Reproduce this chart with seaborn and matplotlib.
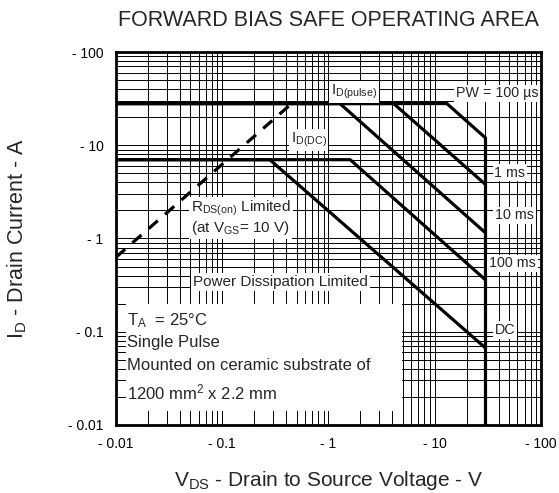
import matplotlib
matplotlib.use("Agg")
import matplotlib.pyplot as plt
from matplotlib.patches import Rectangle
from matplotlib.ticker import FixedLocator, LogLocator, NullFormatter
import pandas as pd
import seaborn as sns

# ── Data ──────────────────────────────────────────────────────────────────
tick_values = [0.01, 0.1, 1, 10, 100]
tick_labels = ["- 0.01", "- 0.1", "- 1", "- 10", "- 100"]

rds_vds = [0.01, 0.45]
rds_id = [0.63, 28]

pw100us_vds = [0.01, 13.0, 30]
pw100us_id = [28, 28, 12]

pw1ms_vds = [0.01, 4.1, 30]
pw1ms_id = [28, 28, 3.8]

pw10ms_vds = [0.01, 1.28, 30]
pw10ms_id = [28, 28, 1.15]

pw100ms_vds = [0.01, 1.6, 30]
pw100ms_id = [7, 7, 0.36]

dc_vds = [0.01, 0.28, 30]
dc_id = [7, 7, 0.067]

bvdss_vds = [30, 30]
bvdss_id = [0.01, 12]

# ── Style ─────────────────────────────────────────────────────────────────
sns.set_style("white")
plt.rcParams["font.family"] = ["Liberation Sans", "DejaVu Sans"]
plt.rcParams["mathtext.fontset"] = "custom"
plt.rcParams["mathtext.rm"] = "Liberation Sans"
plt.rcParams["mathtext.it"] = "Liberation Sans:italic"
plt.rcParams["mathtext.bf"] = "Liberation Sans:bold"

curves = {
    "100us": (pw100us_vds, pw100us_id),
    "1ms": (pw1ms_vds, pw1ms_id),
    "10ms": (pw10ms_vds, pw10ms_id),
    "100ms": (pw100ms_vds, pw100ms_id),
    "dc": (dc_vds, dc_id),
    "bvdss": (bvdss_vds, bvdss_id),
}
rows = []
for name, (vs, ids) in curves.items():
    for v, i in zip(vs, ids):
        rows.append({"curve": name, "vds": v, "id": i})
df = pd.DataFrame(rows)
df_rds = pd.DataFrame({"vds": rds_vds, "id": rds_id})

fig = plt.figure(figsize=(5.59, 4.93), dpi=100)
ax = fig.add_axes([0.2075, 0.138, 0.7603, 0.7565])

sns.lineplot(data=df, x="vds", y="id", units="curve", estimator=None,
             sort=False, color="black", linewidth=2.3, ax=ax, zorder=3)
sns.lineplot(data=df_rds, x="vds", y="id", estimator=None, sort=False,
             color="black", linewidth=2.3, ax=ax, zorder=3)
ax.lines[-1].set_dashes((3.8, 3.0))

ax.set_xscale("log")
ax.set_yscale("log")
ax.set_xlim(0.01, 100)
ax.set_ylim(0.01, 100)

for axis in (ax.xaxis, ax.yaxis):
    axis.set_major_locator(FixedLocator(tick_values))
    axis.set_minor_locator(LogLocator(base=10, subs=range(2, 10)))
    axis.set_minor_formatter(NullFormatter())
ax.set_xticklabels(tick_labels)
ax.set_yticklabels(tick_labels)
ax.tick_params(which="both", length=0, labelsize=10, colors="black")
ax.tick_params(axis="x", pad=9)
ax.tick_params(axis="y", pad=9)

ax.set_axisbelow(True)
ax.grid(which="both", color="black", linewidth=0.7)
for sp in ax.spines.values():
    sp.set_color("black")
    sp.set_linewidth(2.0)

# white panel behind the test conditions
ax.add_patch(Rectangle((0.0124, 0.0142), 4.95 - 0.0124, 0.196 - 0.0142,
                       facecolor="white", edgecolor="none", zorder=1))

box = dict(facecolor="white", edgecolor="none", pad=1.2)
txt = dict(fontsize=11, va="center", ha="left", zorder=4, bbox=box)
side = dict(txt, fontsize=10.3)
ax.text(1.05, 37, r"I$_\mathrm{D(pulse)}$", **txt)
ax.text(15.8, 36, "PW = 100 µs", **side)
ax.text(0.44, 11.3, r"I$_\mathrm{D(DC)}$", **txt)
ax.text(36.5, 5.1, "1 ms", **side)
ax.text(37, 1.77, "10 ms", **side)
ax.text(32.5, 0.54, "100 ms", **side)
ax.text(37, 0.104, "DC", **side)
ax.text(0.051, 2.1, r"R$_\mathrm{DS(on)}$ Limited", **txt)
ax.text(0.051, 1.29, r"(at V$_\mathrm{GS}$= 10 V)", **txt)
ax.text(0.053, 0.34, "Power Dissipation Limited", **txt)

plain = dict(fontsize=12, va="center", ha="left", zorder=4)
ax.text(0.0128, 0.133, r"T$_\mathrm{A}$  = 25°C", **plain)
ax.text(0.0128, 0.077, "Single Pulse", **plain)
ax.text(0.0128, 0.0437, "Mounted on ceramic substrate of", **plain)
ax.text(0.0128, 0.0224, r"1200 mm$^\mathrm{2}$ x 2.2 mm", **plain)

ax.set_xlabel(r"V$_\mathrm{DS}$ - Drain to Source Voltage - V", fontsize=15)
ax.set_ylabel(r"I$_\mathrm{D}$ - Drain Current - A", fontsize=15.5)
ax.xaxis.set_label_coords(0.5, -0.118)
ax.yaxis.set_label_coords(-0.205, 0.5)
ax.set_title("FORWARD BIAS SAFE OPERATING AREA", fontsize=15.5, pad=19)

fig.savefig("out.png", dpi=100)
